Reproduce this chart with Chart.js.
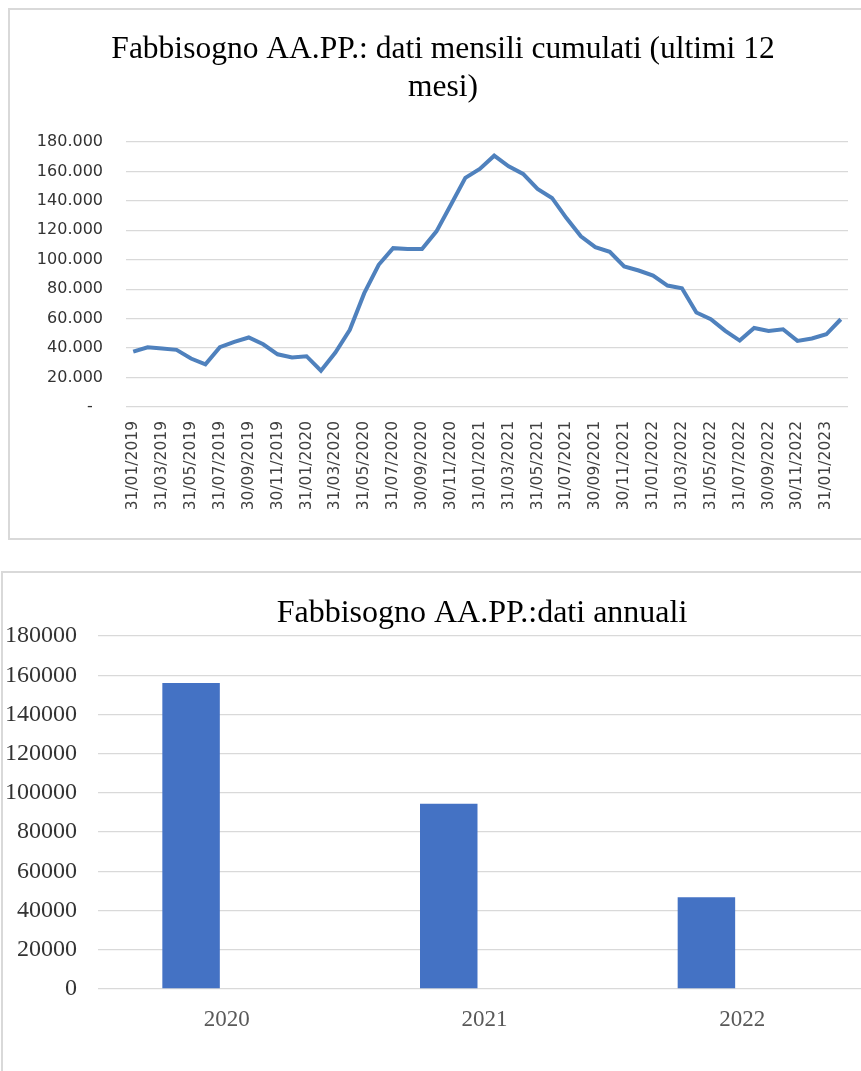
<!DOCTYPE html>
<html lang="it">
<head>
<meta charset="utf-8">
<title>Fabbisogno AA.PP.</title>
<script src="https://cdn.jsdelivr.net/npm/chart.js@4.4.1/dist/chart.umd.min.js"></script>
<style>
  html, body { margin: 0; padding: 0; background: #fff; overflow: hidden; width: 861px; height: 1071px; }
  .box { position: absolute; border: 2px solid #d9d9d9; background: #fff; }
  #box1 { left: 8px; top: 8px; width: 880px; height: 528px; }
  #box2 { left: 1px; top: 571px; width: 980px; height: 520px; }
  canvas { position: absolute; left: 0; top: 0; }
</style>
</head>
<body>
<div class="box" id="box1"><canvas id="mensili" width="866" height="528"></canvas></div>
<div class="box" id="box2"><canvas id="annuali" width="958" height="498"></canvas></div>
<script>
// fine mese, da gennaio 2019 a febbraio 2023
const mesi = [
    "31/01/2019", "28/02/2019", "31/03/2019", "30/04/2019", "31/05/2019", "30/06/2019",
    "31/07/2019", "31/08/2019", "30/09/2019", "31/10/2019", "30/11/2019", "31/12/2019",
    "31/01/2020", "29/02/2020", "31/03/2020", "30/04/2020", "31/05/2020", "30/06/2020",
    "31/07/2020", "31/08/2020", "30/09/2020", "31/10/2020", "30/11/2020", "31/12/2020",
    "31/01/2021", "28/02/2021", "31/03/2021", "30/04/2021", "31/05/2021", "30/06/2021",
    "31/07/2021", "31/08/2021", "30/09/2021", "31/10/2021", "30/11/2021", "31/12/2021",
    "31/01/2022", "28/02/2022", "31/03/2022", "30/04/2022", "31/05/2022", "30/06/2022",
    "31/07/2022", "31/08/2022", "30/09/2022", "31/10/2022", "30/11/2022", "31/12/2022",
    "31/01/2023", "28/02/2023"
];
// fabbisogno cumulato ultimi 12 mesi (milioni)
const cumulati = [
    37600, 40600, 39700, 38800, 32900, 29000, 40600, 44200, 47200, 42600, 35800, 33600,
    34500, 24700, 37000, 52400, 77300, 96600, 107900, 107300, 107300, 119300, 137400, 155600,
    161700, 170700, 163500, 158300, 148100, 142000, 128300, 115900, 108600, 105400, 95500, 92700,
    89300, 82500, 80700, 64200, 59600, 51700, 45100, 53700, 51700, 52800, 44900, 46500,
    49400, 59600
];

const anni = ["2020", "2021", "2022"];
const annuali = [156000, 94400, 46800];
const vuota = [null, null, null]; // seconda serie senza valori, come nel foglio originale

const grigio = "#d9d9d9";

function puntiMigliaia(v) {
    return String(v).replace(/\B(?=(\d{3})+(?!\d))/g, ".");
}

// asse fittizio a destra: solo per lasciare spazio, il titolo resta centrato sul riquadro
function spazioDestro(w) {
    return {
        position: "right",
        display: true,
        grid: { display: false },
        border: { display: false },
        ticks: { display: false },
        afterFit(s) { s.width = w; }
    };
}

new Chart(document.getElementById("mensili"), {
    type: "line",
    data: {
        labels: mesi,
        datasets: [{
            label: "Fabbisogno",
            data: cumulati,
            borderColor: "#4f81bd",
            borderWidth: 4,
            pointRadius: 0,
            tension: 0,
            fill: false
        }]
    },
    options: {
        responsive: false,
        animation: false,
        layout: { padding: 0 },
        plugins: {
            legend: { display: false },
            tooltip: { enabled: false },
            title: {
                display: true,
                text: ["Fabbisogno AA.PP.: dati mensili cumulati (ultimi 12", "mesi)"],
                color: "#000",
                font: { family: "'Liberation Serif', 'Times New Roman', serif", size: 31.5, weight: "normal", lineHeight: 1.206 },
                padding: { top: 21, bottom: 35 }
            }
        },
        scales: {
            x: {
                offset: true,
                grid: { display: false, drawTicks: false },
                border: { display: false },
                ticks: {
                    autoSkip: false,
                    maxRotation: 90,
                    minRotation: 90,
                    padding: 14,
                    color: "#404040",
                    font: { family: "'DejaVu Sans', Verdana, sans-serif", size: 15.5 },
                    callback(val, i) { return i % 2 === 0 ? mesi[i] : ""; }
                },
                afterFit(s) { s.height = 131; }
            },
            y: {
                min: 0,
                max: 180000,
                grid: { color: grigio, lineWidth: 1.3, drawTicks: false },
                border: { display: false },
                ticks: {
                    stepSize: 20000,
                    padding: 23,
                    color: "#333",
                    font: { family: "'DejaVu Sans', Verdana, sans-serif", size: 16 },
                    callback(v) { return v === 0 ? "-  " : puntiMigliaia(v); }
                },
                afterFit(s) { s.width = 116; }
            },
            destra: spazioDestro(28)
        }
    }
});

new Chart(document.getElementById("annuali"), {
    type: "bar",
    data: {
        labels: anni,
        datasets: [
            { label: "Fabbisogno", data: annuali, backgroundColor: "#4472c4" },
            { label: "", data: vuota, backgroundColor: "#ed7d31" }
        ]
    },
    options: {
        responsive: false,
        animation: false,
        layout: { padding: 0 },
        categoryPercentage: 0.555,
        barPercentage: 0.804,
        plugins: {
            legend: { display: false },
            tooltip: { enabled: false },
            title: {
                display: true,
                text: "Fabbisogno AA.PP.:dati annuali",
                color: "#000",
                font: { family: "'Liberation Serif', 'Times New Roman', serif", size: 32, weight: "normal", lineHeight: 1.125 },
                padding: { top: 23, bottom: 4 }
            }
        },
        scales: {
            x: {
                grid: { display: false, drawTicks: false },
                border: { display: false },
                ticks: {
                    padding: 17,
                    color: "#595959",
                    font: { family: "'Liberation Serif', 'Times New Roman', serif", size: 23 }
                },
                afterFit(s) { s.height = 82; }
            },
            y: {
                min: 0,
                max: 180000,
                grid: { color: grigio, lineWidth: 1.3, drawTicks: false },
                border: { display: false },
                ticks: {
                    stepSize: 20000,
                    padding: 21,
                    color: "#333",
                    font: { family: "'Liberation Serif', 'Times New Roman', serif", size: 24 },
                    callback(v) { return String(v); }
                },
                afterFit(s) { s.width = 95; }
            },
            destra: spazioDestro(90)
        }
    }
});
</script>
</body>
</html>
